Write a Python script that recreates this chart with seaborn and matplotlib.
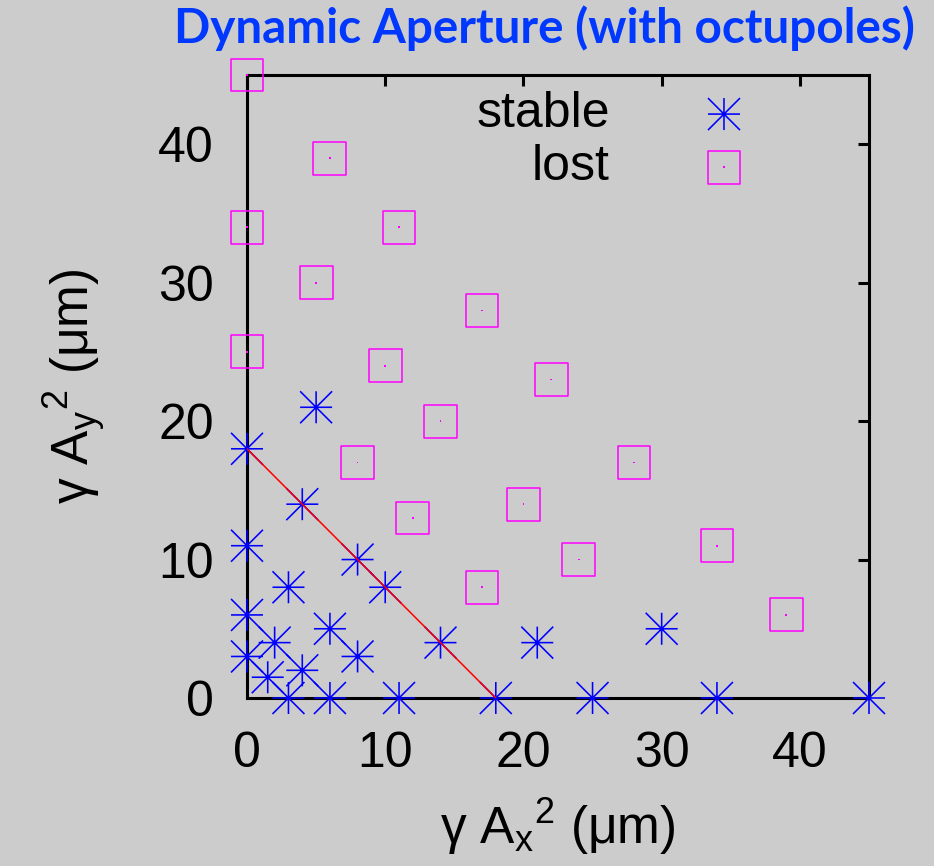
import matplotlib
matplotlib.use("Agg")
import matplotlib.pyplot as plt
from matplotlib.path import Path
from matplotlib.legend_handler import HandlerTuple
import seaborn as sns
import pandas as pd

# Stable particle amplitudes (gamma*Ax^2, gamma*Ay^2) in um
stable_x = [0, 0, 0, 0, 1.5, 2, 3, 3, 4, 4, 5, 6, 6, 8, 8, 10, 11, 14, 18, 21, 25, 30, 34, 45]
stable_y = [18, 11, 6, 3, 1.5, 4, 0, 8, 2, 14, 21, 5, 0, 10, 3, 8, 0, 4, 0, 4, 0, 5, 0, 0]

# Lost particle amplitudes
lost_x = [0, 6, 0, 11, 5, 0, 17, 10, 22, 14, 8, 28, 20, 12, 24, 17, 34, 39]
lost_y = [45, 39, 34, 34, 30, 25, 28, 24, 23, 20, 17, 17, 14, 13, 10, 8, 11, 6]

# Boundary of the stable region
edge_x = [0, 18]
edge_y = [18, 0]

ticks = [0, 10, 20, 30, 40]
limits = (0, 45)

title = "Dynamic Aperture (with octupoles)"
series_names = ["stable", "lost"]

bg = "#cccccc"
sns.set_theme(style="white")
plt.rcParams["font.family"] = ["Liberation Sans", "DejaVu Sans"]
plt.rcParams["mathtext.default"] = "regular"
plt.rcParams["text.color"] = "black"
plt.rcParams["axes.labelcolor"] = "black"

stable_df = pd.DataFrame({"x": stable_x, "y": stable_y})
lost_df = pd.DataFrame({"x": lost_x, "y": lost_y})

fig = plt.figure(figsize=(9.34, 8.66), dpi=100, facecolor=bg)
ax = fig.add_axes([247 / 934, 1 - 698 / 866, 622 / 934, 623 / 866])
ax.set_facecolor(bg)

# gnuplot-style asterisk: plus overlaid with a cross reaching the box corners
asterisk = Path(
    [(-1, 0), (1, 0), (0, -1), (0, 1), (-1, -1), (1, 1), (-1, 1), (1, -1)],
    [Path.MOVETO, Path.LINETO] * 4,
)

sns.scatterplot(data=stable_df, x="x", y="y", ax=ax, marker=asterisk, s=530,
                color="#0000ff", facecolor="none", edgecolor="#0000ff",
                linewidth=1.15, clip_on=False, zorder=3, legend=False)
sns.scatterplot(data=lost_df, x="x", y="y", ax=ax, marker="s", s=560,
                color="#ff00ff", facecolor="none", edgecolor="#ff00ff",
                linewidth=1.1, clip_on=False, zorder=3, legend=False)
sns.scatterplot(data=lost_df, x="x", y="y", ax=ax, marker="s", s=1.5,
                color="#ff00ff", edgecolor="none", linewidth=0,
                clip_on=False, zorder=3, legend=False)

ax.plot(edge_x, edge_y, color="#ff0000", lw=1.1, zorder=4)

ax.set_xlim(*limits)
ax.set_ylim(*limits)
ax.set_xticks(ticks)
ax.set_yticks(ticks)
ax.tick_params(direction="in", length=8, width=2.2, top=True, right=True,
               labelsize=36, colors="black")
ax.tick_params(axis="x", pad=24)
ax.tick_params(axis="y", pad=24)
for sp in ax.spines.values():
    sp.set_linewidth(2.2)
    sp.set_color("black")

ax.set_xlabel("γ $\\mathregular{A_x{}^2}$ (μm)", fontsize=37, labelpad=14)
ax.set_ylabel("γ $\\mathregular{A_y{}^2}$ (μm)", fontsize=37, labelpad=36)

stable_coll, sq_coll, dot_coll = ax.collections[0], ax.collections[1], ax.collections[2]
leg = ax.legend([stable_coll, (sq_coll, dot_coll)], series_names,
                handler_map={tuple: HandlerTuple(ndivide=1, pad=0)},
                loc="upper right", bbox_to_anchor=(0.799, 0.974),
                markerfirst=False, frameon=False, fontsize=36,
                handlelength=0.8, handletextpad=1.88, labelspacing=0.14,
                borderpad=0, borderaxespad=0, scatterpoints=1)

ttl = fig.text(544 / 934, 1 - 43 / 866, title, ha="center", va="baseline",
               fontsize=30, fontweight="bold", color="#0038ff",
               family=["Lato", "DejaVu Sans"])
# fit the heading to its span across the top of the figure
fig.canvas.draw()
w = ttl.get_window_extent().width
ttl.set_fontsize(30 * 742 / w)

fig.savefig("out.png", dpi=100, facecolor=bg)
